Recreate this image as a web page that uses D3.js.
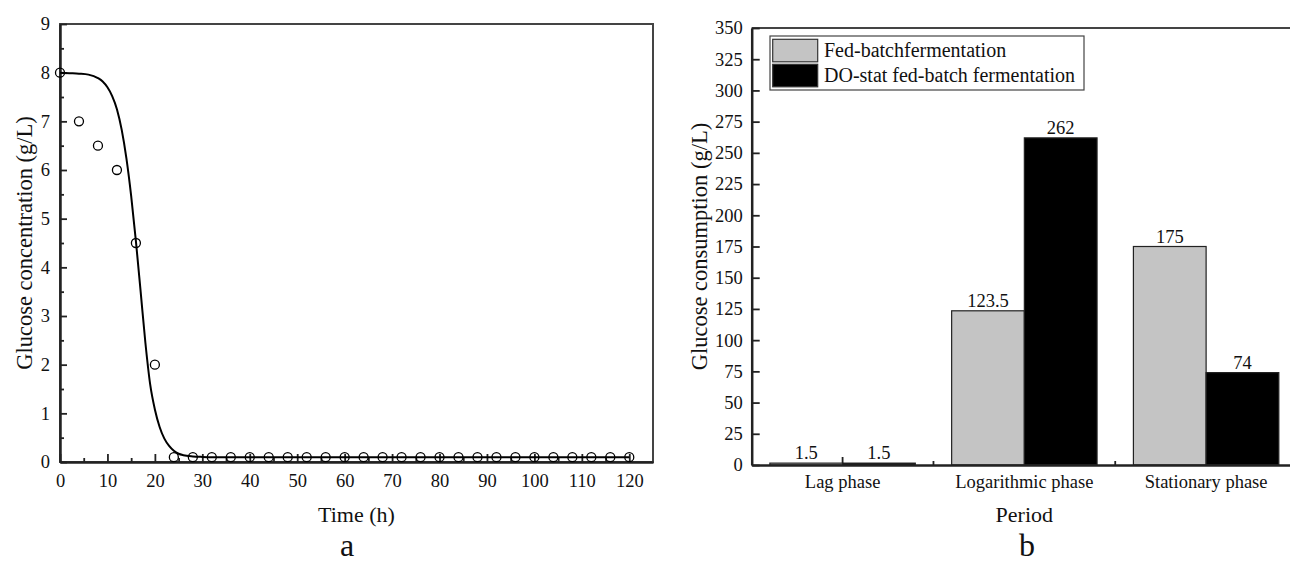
<!DOCTYPE html>
<html>
<head>
<meta charset="utf-8">
<script src="https://cdn.jsdelivr.net/npm/d3@7"></script>
<style>
  body { margin: 0; background: #fff; }
  svg { display: block; font-family: 'Liberation Serif', 'Times New Roman', serif; }
  .axis path, .axis line { stroke: #222; }
  .axis text { font-family: 'Liberation Serif', 'Times New Roman', serif; fill: #111; }
</style>
</head>
<body>
<div class="chart-container"></div>
<script>
// Panel a: glucose over time (observed points + fitted curve)
const obsTime = [0,4,8,12,16,20,24,28,32,36,40,44,48,52,56,60,64,68,72,76,80,84,88,92,96,100,104,108,112,116,120];
const obsGlucose = [8,7,6.5,6,4.5,2,0.1,0.1,0.1,0.1,0.1,0.1,0.1,0.1,0.1,0.1,0.1,0.1,0.1,0.1,0.1,0.1,0.1,0.1,0.1,0.1,0.1,0.1,0.1,0.1,0.1];
// fitted curve
const fitTime =    [0,   2,    4,    6,    8,    9,    10,  11,   12,   13,   14,   15,   16,   17,   18,  19,  20,   21,   22,   23,   24,   25,   26,   28,    30,   32,  120];
const fitGlucose = [8.0, 7.99, 7.98, 7.96, 7.89, 7.82, 7.7, 7.52, 7.25, 6.83, 6.24, 5.47, 4.54, 3.5, 2.45, 1.6, 1.08, 0.72, 0.48, 0.33, 0.23, 0.17, 0.14, 0.115, 0.105, 0.1, 0.1];
const xTicksA = [0,10,20,30,40,50,60,70,80,90,100,110,120];
const yTicksA = [0,1,2,3,4,5,6,7,8,9];

// Panel b: glucose consumption per phase
const periods = ['Lag phase', 'Logarithmic phase', 'Stationary phase'];
const seriesNames = ['Fed-batchfermentation', 'DO-stat fed-batch fermentation'];
const fedBatch = [1.5, 123.5, 175];
const doStat = [1.5, 262, 74];
const valueLabels = [['1.5','123.5','175'], ['1.5','262','74']];
const yTicksB = [0,25,50,75,100,125,150,175,200,225,250,275,300,325,350];

const W = 1290, H = 565;
const svg = d3.select('.chart-container').append('svg')
  .attr('width', W).attr('height', H);

// ---------- panel a ----------
const a = {left: 60, right: 653, top: 24, bottom: 462};
const xA = d3.scaleLinear().domain([0, 125]).range([a.left, a.right]);
const yA = d3.scaleLinear().domain([0, 9]).range([a.bottom, a.top]);

// frame (top + right)
svg.append('rect')
  .attr('x', a.left).attr('y', a.top)
  .attr('width', a.right - a.left).attr('height', a.bottom - a.top)
  .attr('fill', 'none').attr('stroke', '#444').attr('stroke-width', 2);

// minor ticks
svg.append('g').attr('class', 'axis')
  .attr('transform', `translate(0,${a.bottom})`)
  .call(d3.axisBottom(xA).tickValues(d3.range(5, 125, 10)).tickSize(-4).tickFormat(''))
  .call(g => g.select('.domain').remove())
  .selectAll('line').attr('stroke-width', 1.8);
svg.append('g').attr('class', 'axis')
  .attr('transform', `translate(${a.left},0)`)
  .call(d3.axisLeft(yA).tickValues(d3.range(0.5, 9, 1)).tickSize(-4).tickFormat(''))
  .call(g => g.select('.domain').remove())
  .selectAll('line').attr('stroke-width', 1.8);

const xAxisA = svg.append('g').attr('class', 'axis')
  .attr('transform', `translate(0,${a.bottom})`)
  .call(d3.axisBottom(xA).tickValues(xTicksA).tickSize(-8).tickSizeOuter(0).tickPadding(12));
xAxisA.select('.domain').attr('stroke-width', 2.5);
xAxisA.selectAll('line').attr('stroke-width', 1.8);
xAxisA.selectAll('text').style('font-size', '18.5px');

const yAxisA = svg.append('g').attr('class', 'axis')
  .attr('transform', `translate(${a.left},0)`)
  .call(d3.axisLeft(yA).tickValues(yTicksA).tickSize(-7).tickSizeOuter(0).tickPadding(10));
yAxisA.select('.domain').attr('stroke-width', 2.5);
yAxisA.selectAll('line').attr('stroke-width', 1.8);
yAxisA.selectAll('text').style('font-size', '18.5px');

// fitted curve
const fitData = fitTime.map((t, i) => ({t: t, g: fitGlucose[i]}));
svg.append('path')
  .datum(fitData)
  .attr('fill', 'none').attr('stroke', '#000').attr('stroke-width', 2)
  .attr('d', d3.line().x(d => xA(d.t)).y(d => yA(d.g)).curve(d3.curveMonotoneX));

// observed points
svg.selectAll('.obs')
  .data(obsTime.map((t, i) => ({t: t, g: obsGlucose[i]})))
  .enter().append('circle')
  .attr('class', 'obs')
  .attr('cx', d => xA(d.t)).attr('cy', d => yA(d.g))
  .attr('r', 4.5)
  .attr('fill', 'none').attr('stroke', '#000').attr('stroke-width', 1.3);

svg.append('text')
  .attr('transform', `translate(32,${(a.top + a.bottom) / 2}) rotate(-90)`)
  .attr('text-anchor', 'middle').style('font-size', '22.5px').attr('fill', '#111')
  .text('Glucose concentration (g/L)');
svg.append('text')
  .attr('x', (a.left + a.right) / 2).attr('y', 522)
  .attr('text-anchor', 'middle').style('font-size', '22px').attr('fill', '#111')
  .text('Time (h)');
svg.append('text')
  .attr('x', 347).attr('y', 556)
  .attr('text-anchor', 'middle').style('font-size', '32px').attr('fill', '#111')
  .text('a');

// ---------- panel b ----------
const b = {left: 751.7, right: 1297, top: 28, bottom: 465};
const xB = d3.scaleBand().domain(periods).range([b.left, b.right])
  .paddingInner(0.2).paddingOuter(0.1);
const xSeries = d3.scaleBand().domain([0, 1]).range([0, xB.bandwidth()]);
const yB = d3.scaleLinear().domain([0, 350]).range([b.bottom, b.top]);
const barColors = ['#c4c4c4', '#000'];

// top border
svg.append('line')
  .attr('x1', b.left).attr('x2', b.right).attr('y1', b.top).attr('y2', b.top)
  .attr('stroke', '#444').attr('stroke-width', 2);

// category centre ticks (mostly hidden behind bars)
svg.append('g').attr('class', 'axis')
  .attr('transform', `translate(0,${b.bottom})`)
  .call(d3.axisBottom(xB).tickSize(-8).tickFormat(''))
  .call(g => g.select('.domain').remove())
  .selectAll('line').attr('stroke-width', 1.8);

const barData = [];
periods.forEach((p, i) => {
  barData.push({p: p, s: 0, v: fedBatch[i], label: valueLabels[0][i]});
  barData.push({p: p, s: 1, v: doStat[i], label: valueLabels[1][i]});
});

svg.selectAll('.bar')
  .data(barData)
  .enter().append('rect')
  .attr('class', 'bar')
  .attr('x', d => xB(d.p) + xSeries(d.s))
  .attr('y', d => yB(d.v))
  .attr('width', xSeries.bandwidth())
  .attr('height', d => yB(0) - yB(d.v))
  .attr('fill', d => barColors[d.s])
  .attr('stroke', '#222').attr('stroke-width', 1.2);

svg.selectAll('.bar-label')
  .data(barData)
  .enter().append('text')
  .attr('class', 'bar-label')
  .attr('x', d => xB(d.p) + xSeries(d.s) + xSeries.bandwidth() / 2)
  .attr('y', d => yB(d.v) - 4)
  .attr('text-anchor', 'middle').style('font-size', '18.5px').attr('fill', '#111')
  .text(d => d.label);

// boundary ticks between categories
const boundaries = periods.slice(1).map(p => xB(p) - xB.step() * xB.paddingInner() / 2);
svg.selectAll('.bound-tick')
  .data(boundaries)
  .enter().append('line')
  .attr('x1', d => d).attr('x2', d => d)
  .attr('y1', b.bottom).attr('y2', b.bottom - 4)
  .attr('stroke', '#222').attr('stroke-width', 1.8);

const xAxisB = svg.append('g').attr('class', 'axis')
  .attr('transform', `translate(0,${b.bottom})`)
  .call(d3.axisBottom(xB).tickSize(0).tickSizeOuter(0).tickPadding(10));
xAxisB.select('.domain').attr('stroke-width', 2.5);
xAxisB.selectAll('text').style('font-size', '18.5px');

const yAxisB = svg.append('g').attr('class', 'axis')
  .attr('transform', `translate(${b.left},0)`)
  .call(d3.axisLeft(yB).tickValues(yTicksB).tickSize(-8).tickSizeOuter(0).tickPadding(9));
yAxisB.select('.domain').attr('stroke-width', 2.5);
yAxisB.selectAll('line').attr('stroke-width', 1.8);
yAxisB.selectAll('text').style('font-size', '18.5px');

// legend
const legend = svg.append('g').attr('transform', 'translate(770,36)');
legend.append('rect')
  .attr('width', 314).attr('height', 54)
  .attr('fill', '#fff').attr('stroke', '#444').attr('stroke-width', 1.2);
seriesNames.forEach((name, i) => {
  legend.append('rect')
    .attr('x', 2.7).attr('y', 3.3 + i * 25)
    .attr('width', 45).attr('height', 22.5)
    .attr('fill', barColors[i]).attr('stroke', '#333').attr('stroke-width', 1.2);
  legend.append('text')
    .attr('x', 54).attr('y', 21 + i * 25)
    .style('font-size', '20px').attr('fill', '#111')
    .text(name);
});

svg.append('text')
  .attr('transform', `translate(707,${(b.top + b.bottom) / 2}) rotate(-90)`)
  .attr('text-anchor', 'middle').style('font-size', '22.5px').attr('fill', '#111')
  .text('Glucose consumption (g/L)');
svg.append('text')
  .attr('x', (b.left + b.right) / 2).attr('y', 522)
  .attr('text-anchor', 'middle').style('font-size', '22px').attr('fill', '#111')
  .text('Period');
svg.append('text')
  .attr('x', 1027).attr('y', 556)
  .attr('text-anchor', 'middle').style('font-size', '32px').attr('fill', '#111')
  .text('b');
</script>
</body>
</html>
